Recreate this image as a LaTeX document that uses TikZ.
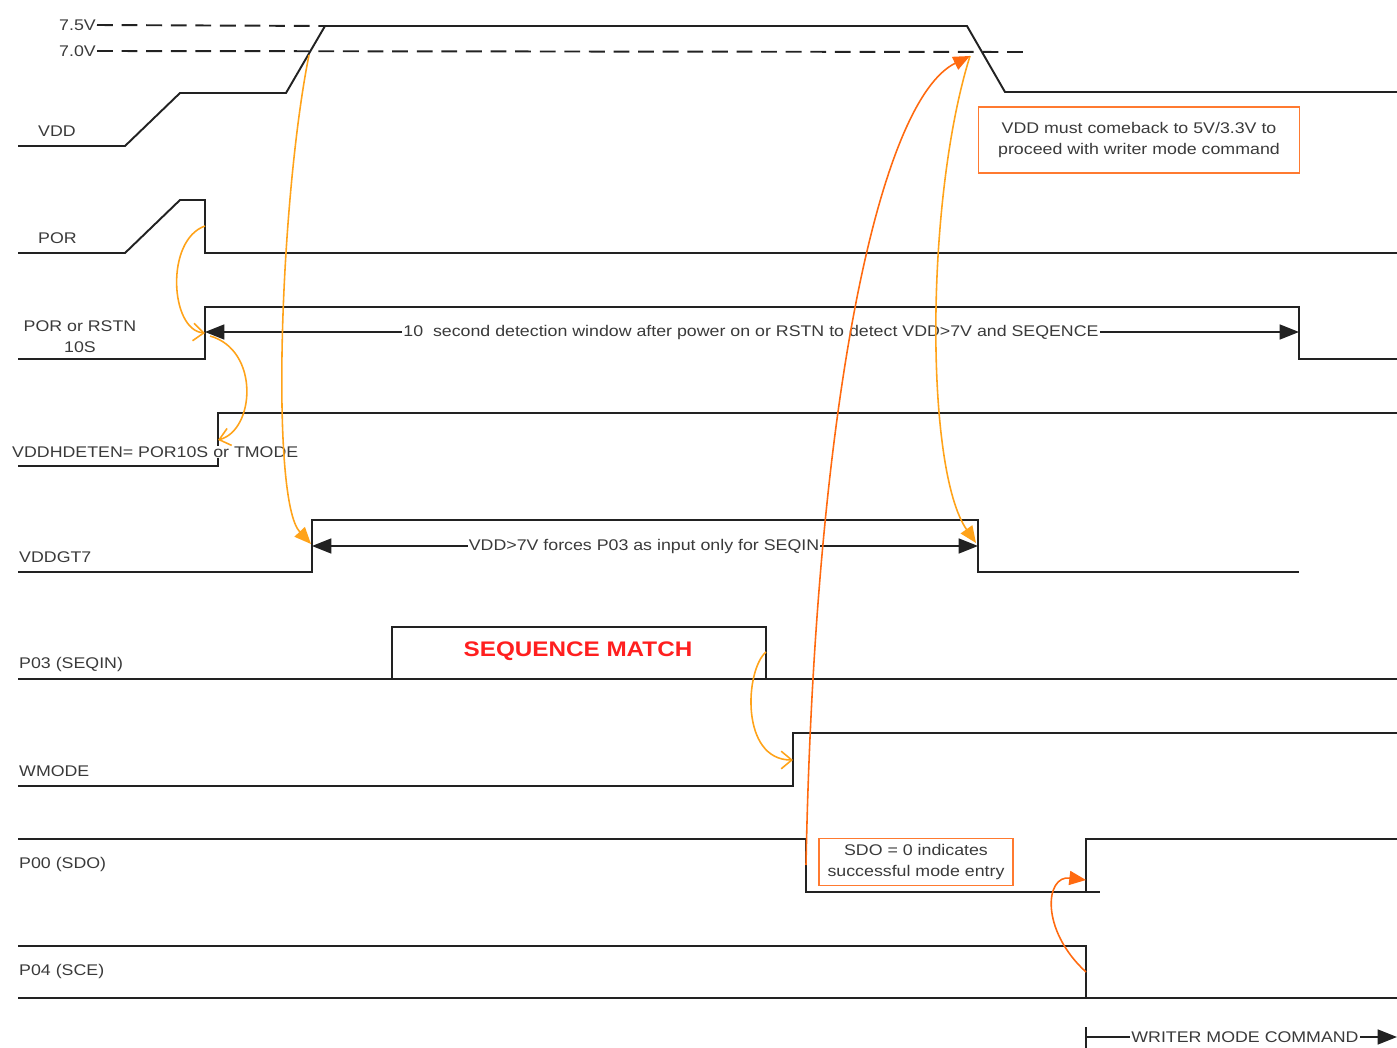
\documentclass[tikz,border=0pt]{standalone}
\usepackage{fontspec}
\setmainfont{Liberation Sans}[FakeStretch=1.15]
\usetikzlibrary{arrows.meta}
\definecolor{lorange}{HTML}{FFA31A}
\definecolor{dorange}{HTML}{FF6A10}
\definecolor{boxorange}{HTML}{FF7A30}
\definecolor{ink}{HTML}{222222}
\definecolor{txt}{HTML}{3A3A3A}
\definecolor{seqred}{HTML}{FF1F1F}
\begin{document}
\begin{tikzpicture}[x=0.02cm,y=-0.02cm,
  sig/.style={draw=ink,line width=1.1pt,line join=miter},
  refline/.style={draw=ink,line width=1.1pt,dash pattern=on 9pt off 5pt},
  lbl/.style={font=\fontsize{8.8}{12}\selectfont,text=txt,inner sep=0.5pt},
  dimline/.style={draw=ink,line width=1pt},
  blkhead/.style={-{Triangle[length=11pt,width=8.5pt]}},
  notebox/.style={draw=boxorange,line width=1pt,align=center,font=\fontsize{8.8}{12}\selectfont,text=txt,inner sep=0pt},
  lcurve/.style={draw=lorange,line width=0.9pt},
  dcurve/.style={draw=dorange,line width=0.9pt},
  fillhead/.style={-{Triangle[length=9.5pt,width=8pt]}},
  openhead/.style={-{Straight Barb[length=6pt,width=10pt]}}]
\useasboundingbox (0,0) rectangle (1397,1048);

% ---------- reference levels ----------
\node[lbl,anchor=east] (l75) at (97,25) {7.5V};
\node[lbl,anchor=east] (l70) at (97,51) {7.0V};
\draw[refline] (l75.east) -- (325,26);
\draw[refline] (l70.east) -- (1023,52);

% ---------- signal labels ----------
\node[lbl,anchor=west] (nVDD) at (37,131) {VDD};
\node[lbl,anchor=west] (nPOR) at (37,238) {POR};
\node[lbl,align=center] (nRST) at (80,337) {POR or RSTN\\10S};
\node[lbl,anchor=west] (nVDDGT) at (18,557) {VDDGT7};
\node[lbl,anchor=west] (nP03) at (18,664) {P03 (SEQIN)};
\node[lbl,anchor=west] (nWM) at (18,771) {WMODE};
\node[lbl,anchor=west] (nP00) at (18,864) {P00 (SDO)};
\node[lbl,anchor=west] (nP04) at (18,971) {P04 (SCE)};

% ---------- waveforms ----------
\draw[sig] (18,146) -- (125,146) -- (180,93) -- (286,93) -- (325,26) -- (967,26) -- (1005,92) -- (1397,92);
\draw[sig] (18,253) -- (125,253) -- (180,200) -- (205,200) -- (205,253) -- (1397,253);
\draw[sig] (18,359) -- (205,359) -- (205,307) -- (1299,307) -- (1299,359) -- (1397,359);
\draw[sig] (18,466) -- (218,466) -- (218,413) -- (1397,413);
\draw[sig] (18,572) -- (312,572) -- (312,520) -- (978,520) -- (978,572) -- (1299,572);
\draw[sig] (18,679) -- (1397,679);
\draw[sig] (392,679) -- (392,627) -- (766,627) -- (766,679);
\draw[sig] (18,786) -- (793,786) -- (793,733) -- (1397,733);
\draw[sig] (18,839) -- (806,839) -- (806,892) -- (1100,892);
\draw[sig] (1086,892) -- (1086,839) -- (1397,839);
\draw[sig] (18,946) -- (1086,946) -- (1086,998);
\draw[sig] (18,998) -- (1397,998);

\node[lbl,anchor=west,fill=white] (nHD) at (11,452) {VDDHDETEN= POR10S or TMODE};

\node[font=\bfseries\fontsize{12}{14}\selectfont,text=seqred,inner sep=0pt] (seq) at (578,651) {SEQUENCE MATCH};

% ---------- dimension arrows ----------
\coordinate (winL) at (205,332);
\coordinate (winR) at (1299,332);
\node[lbl,fill=white] (win) at (751,332) {10~~second detection window after power on or RSTN to detect VDD>7V and SEQENCE};
\draw[dimline,blkhead] (win.west) -- (winL);
\draw[dimline,blkhead] (win.east) -- (winR);

\coordinate (gtL) at (312,546);
\coordinate (gtR) at (978,546);
\node[lbl,fill=white] (gt) at (644,546) {VDD>7V forces P03 as input only for SEQIN};
\draw[dimline,blkhead] (gt.west) -- (gtL);
\draw[dimline,blkhead] (gt.east) -- (gtR);

\coordinate (wmL) at (1086,1037);
\coordinate (wmR) at (1397,1037);
\draw[dimline] (1086,1027) -- (1086,1050);
\node[lbl,fill=white] (wm) at (1245,1037) {WRITER MODE COMMAND};
\draw[dimline] (wmL) -- (wm.west);
\draw[dimline,blkhead] (wm.east) -- (wmR);

% ---------- notes ----------
\node[notebox,minimum width=6.42cm,minimum height=1.32cm] (note1) at (1139,140) {VDD must comeback to 5V/3.3V to\\proceed with writer mode command};
\node[notebox,minimum width=3.88cm,minimum height=0.94cm] (note2) at (916,862) {SDO = 0 indicates\\successful mode entry};

% ---------- causality curves ----------
\coordinate (vddUp) at (309,55);
\coordinate (gtUp) at (311,544);
\coordinate (vddDn) at (970,56);
\coordinate (gtDn) at (976,543);
\coordinate (porFall) at (205,226);
\coordinate (rstUp) at (205,333);
\coordinate (rstUp2) at (210,336);
\coordinate (hdUp) at (218,440);
\coordinate (seqFall) at (766,652);
\coordinate (wmUp) at (793,760);
\coordinate (sdoFall) at (806,865);
\coordinate (sceFall) at (1086,972);
\coordinate (sdoUp) at (1086,880);

\draw[lcurve,fillhead] (vddUp) .. controls (280,200) and (270,500) .. (gtUp);
\draw[lcurve,fillhead] (vddDn) .. controls (925,200) and (925,470) .. (gtDn);
\draw[lcurve,openhead] (porFall) .. controls (165,240) and (170,330) .. (rstUp);
\draw[lcurve,openhead] (rstUp2) .. controls (260,350) and (255,430) .. (hdUp);
\draw[lcurve,openhead] (seqFall) .. controls (745,670) and (740,760) .. (wmUp);
\draw[dcurve,fillhead] (sdoFall) .. controls (815,400) and (880,100) .. (vddDn);
\draw[dcurve,fillhead] (sceFall) .. controls (1040,930) and (1045,875) .. (sdoUp);
\end{tikzpicture}
\end{document}
